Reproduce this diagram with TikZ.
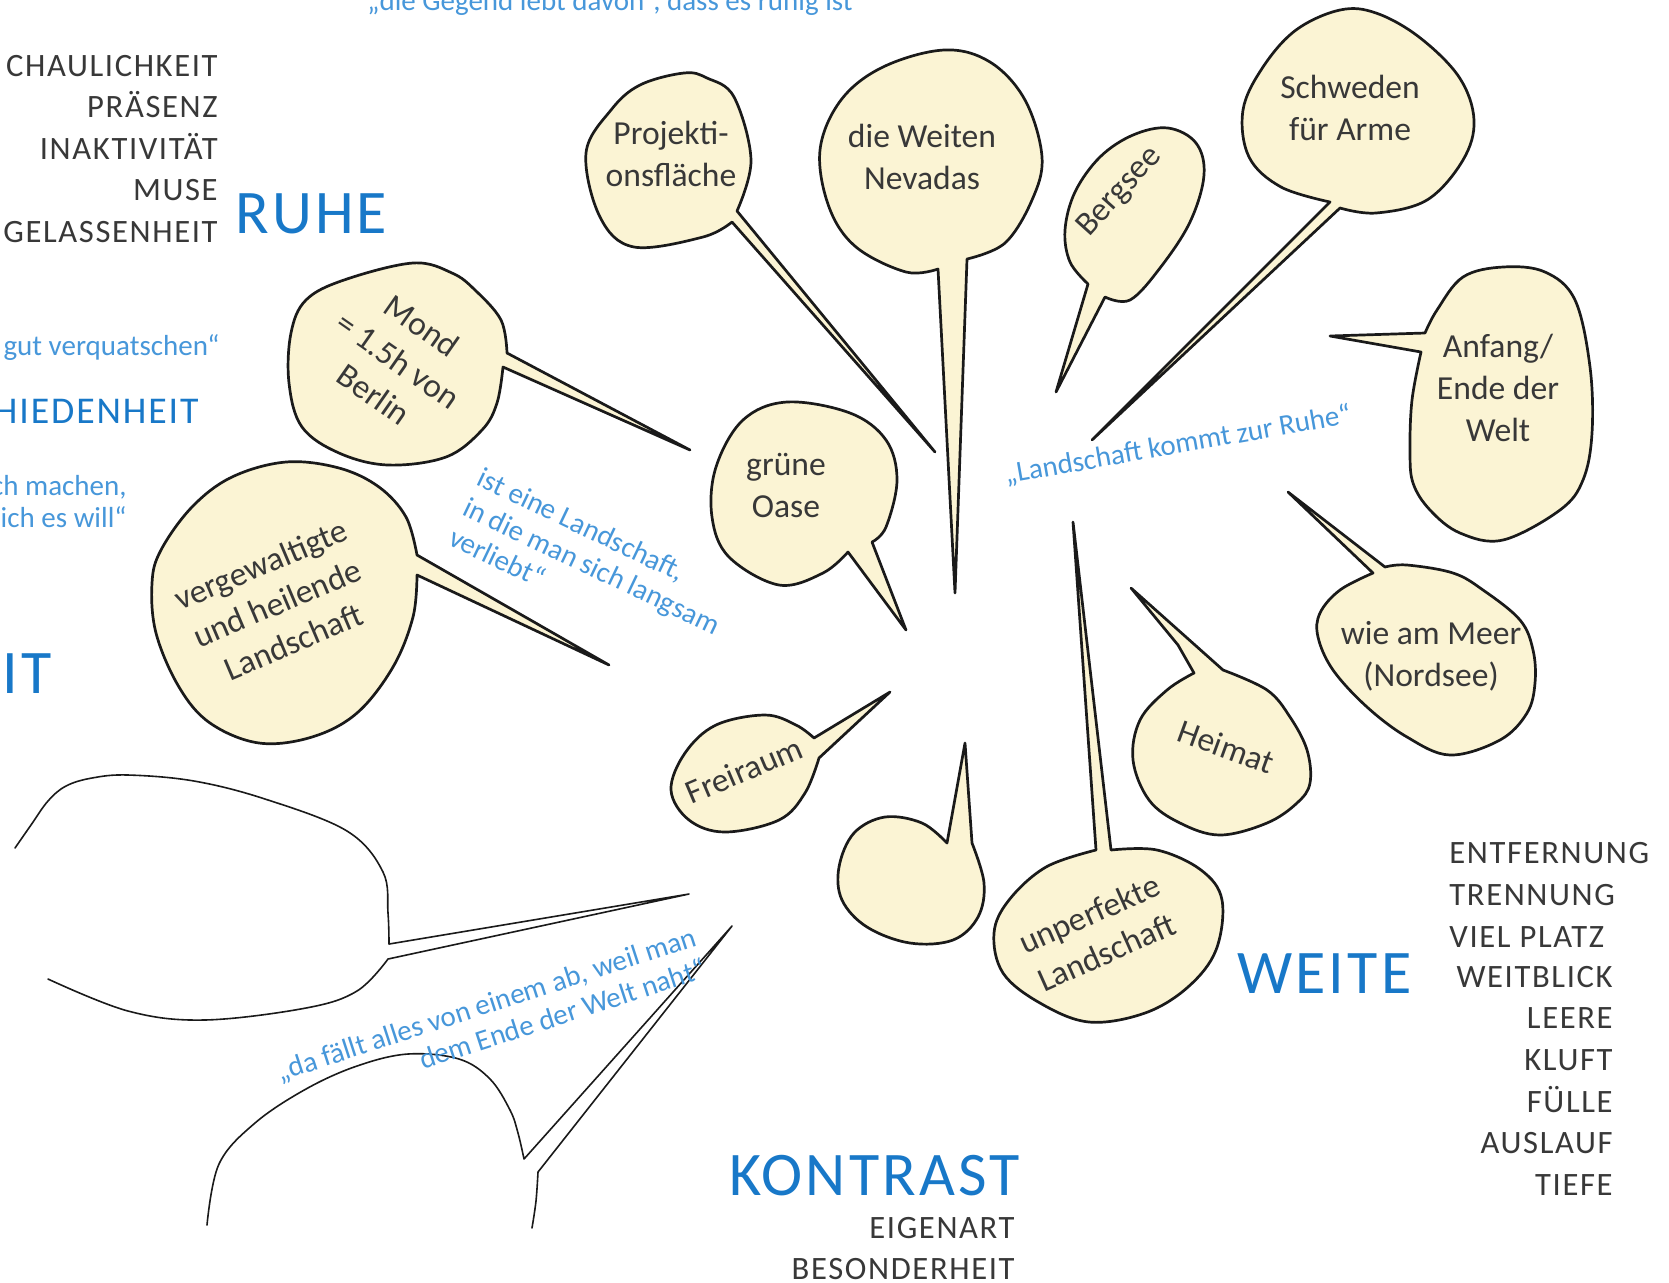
\documentclass[tikz,border=0pt]{standalone}
\usepackage{fontspec}
\setmainfont{Carlito}
\newfontfamily\capsfont[LetterSpace=5]{Carlito}
\definecolor{inkline}{HTML}{1A1A1A}
\definecolor{inkgrey}{HTML}{383838}
\definecolor{headblue}{HTML}{1878C8}
\definecolor{quoteblue}{HTML}{4797DA}
\definecolor{bubblefill}{HTML}{FBF4D4}
\begin{document}
\begin{tikzpicture}[x=0.5pt,y=-0.5pt,
  bubble/.style={draw=inkline, line width=1.35pt, fill=bubblefill, line join=round, line cap=round},
  sketch/.style={draw=inkline, line width=0.8pt, line join=round, line cap=round},
  bubtext/.style={text=inkgrey, font=\fontsize{16.8}{21}\selectfont, align=center, inner sep=0pt},
  capsword/.style={text=inkgrey, font=\capsfont\fontsize{16.3}{20}\selectfont, inner sep=0pt},
  heading/.style={text=headblue, font=\capsfont\fontsize{31}{36}\selectfont, inner sep=0pt},
  subhead/.style={text=headblue, font=\capsfont\fontsize{18.9}{22}\selectfont, inner sep=0pt},
  quote/.style={text=quoteblue, font=\fontsize{14.5}{16.5}\selectfont, inner sep=0pt}]
\fill[white] (0,0) rectangle (1669,1282);
\useasboundingbox (0,0) rectangle (1669,1282);

% tail tips
\coordinate (tMond) at (690,450);
\coordinate (tVerg) at (609,665);
\coordinate (tProj) at (935,452);
\coordinate (tNev) at (955,593);
\coordinate (tBerg) at (1056,392);
\coordinate (tSchw) at (1092,440);
\coordinate (tAnf) at (1330,336);
\coordinate (tOase) at (906,630);
\coordinate (tFrei) at (890,692);
\coordinate (tHeim) at (1131,588);
\coordinate (tMeer) at (1288,492);
\coordinate (tLeer) at (965,743);
\coordinate (tUnp) at (1073,522);
\coordinate (tBigA) at (689,894);
\coordinate (tBigB) at (732,926);

% bubbles
\draw[bubble] plot[smooth,tension=.6] coordinates {(737,211) (751,160) (734,97) (707,78) (684,73) (640,85) (611,110) (586,153) (600,217) (634,247) (703,237) (732,222)} -- (tProj) -- cycle;
\draw[bubble] plot[smooth,tension=.6] coordinates {(967,259) (1005,243) (1032,200) (1042,157) (1025,100) (990,62) (944,50) (883,67) (841,100) (820,150) (829,207) (856,247) (906,272) (938,269)} -- (tNev) -- cycle;
\draw[bubble] plot[smooth,tension=.6] coordinates {(1105,297) (1130,300) (1160,268) (1190,222) (1204,175) (1196,143) (1168,128) (1133,135) (1100,157) (1075,192) (1065,230) (1070,262) (1088,284)} -- (tBerg) -- cycle;
\draw[bubble] plot[smooth,tension=.6] coordinates {(1340,208) (1376,213) (1427,200) (1463,160) (1474,120) (1459,77) (1419,37) (1376,13) (1340,10) (1296,30) (1263,67) (1243,110) (1249,157) (1281,187) (1330,202)} -- (tSchw) -- cycle;
\draw[bubble] plot[smooth,tension=.6] coordinates {(1421,352) (1412,400) (1410,450) (1413,483) (1430,510) (1460,533) (1503,540) (1560,510) (1583,480) (1592,433) (1590,367) (1575,300) (1545,272) (1503,267) (1463,277) (1437,310) (1425,333)} -- (tAnf) -- cycle;
\draw[bubble] plot[smooth,tension=.6] coordinates {(872,542) (886,527) (897,480) (886,440) (850,413) (787,402) (743,420) (716,467) (712,517) (729,557) (779,585) (823,573) (848,552)} -- (tOase) -- cycle;
\draw[bubble] plot[smooth,tension=.6] coordinates {(814,738) (796,725) (765,715) (716,725) (685,753) (671,790) (689,820) (725,832) (779,820) (805,793) (819,758)} -- (tFrei) -- cycle;
\draw[bubble] plot[smooth,tension=.6] coordinates {(1223,670) (1267,690) (1290,717) (1307,750) (1310,783) (1297,803) (1267,823) (1220,835) (1180,823) (1149,800) (1133,760) (1140,720) (1167,690) (1194,673)} -- (1178,645) -- (tHeim) -- cycle;
\draw[bubble] plot[smooth,tension=.6] coordinates {(1385,567) (1407,565) (1453,573) (1483,590) (1520,620) (1533,650) (1535,683) (1527,713) (1500,740) (1450,755) (1407,737) (1367,707) (1333,670) (1318,637) (1320,613) (1340,590) (1373,573)} -- (tMeer) -- cycle;
\draw[bubble] plot[smooth,tension=.6] coordinates {(507,353) (501,320) (475,290) (452,273) (413,263) (344,280) (306,300) (291,333) (289,383) (302,427) (339,453) (388,465) (446,457) (482,430) (497,403) (503,367)} -- (tMond) -- cycle;
\draw[bubble] plot[smooth,tension=.6] coordinates {(417,555) (406,517) (379,487) (339,468) (286,462) (232,477) (192,507) (161,550) (152,583) (156,633) (179,687) (210,723) (259,743) (312,737) (357,713) (393,667) (413,617) (417,575)} -- (tVerg) -- cycle;
\draw[bubble] plot[smooth,tension=.6] coordinates {(972,843) (984,883) (978,917) (953,940) (910,943) (867,927) (842,900) (839,867) (854,833) (885,817) (922,823) (947,843)} -- (tLeer) -- cycle;
\draw[bubble] plot[smooth,tension=.6] coordinates {(1111,850) (1157,850) (1201,870) (1222,900) (1216,950) (1188,987) (1145,1013) (1089,1022) (1040,1003) (1003,973) (994,933) (1009,900) (1046,867) (1096,850)} -- (tUnp) -- cycle;

% open outline bubbles
\draw[sketch] plot[smooth,tension=.6] coordinates {(15,848) (31,825) (48,801) (66,786) (92,778) (128,775) (194,781) (265,799) (347,831) (383,872) (388,913) (389,944)} -- (tBigA) -- plot[smooth,tension=.6] coordinates {(388,959) (357,991) (306,1008) (204,1020) (128,1011) (48,979)};
\draw[sketch] plot[smooth,tension=.6] coordinates {(207,1225) (219,1164) (255,1123) (306,1089) (357,1066) (408,1054) (459,1059) (490,1079) (510,1110) (518,1133) (524,1159)} -- (tBigB) -- plot[smooth,tension=.6] coordinates {(538,1172) (536,1201) (532,1228)};

% bubble texts
\node[bubtext] (bProj) at (671,154) {Projekti-\\onsfläche};
\node[bubtext] (bNev) at (922,157) {die Weiten\\Nevadas};
\node[bubtext, rotate=48] (bBerg) at (1120,192) {Bergsee};
\node[bubtext] (bSchw) at (1350,108) {Schweden\\für Arme};
\node[bubtext] (bAnf) at (1498,388) {Anfang/\\Ende der\\Welt};
\node[bubtext] (bOase) at (786,485) {grüne\\Oase};
\node[bubtext, rotate=-35] (bMond) at (398,360) {Mond\\= 1.5h von\\Berlin};
\node[bubtext, rotate=23] (bVerg) at (277,603) {vergewaltigte\\und heilende\\Landschaft};
\node[bubtext, rotate=23] (bFrei) at (744,770) {Freiraum};
\node[bubtext, rotate=-20] (bHeim) at (1226,747) {Heimat};
\node[bubtext] (bMeer) at (1431,656) {wie am Meer\\(Nordsee)};
\node[bubtext, rotate=24] (bUnp) at (1098,933) {unperfekte\\Landschaft};

% quotes
\node[quote, anchor=base west] (qTop) at (367,10) {„die Gegend lebt davon“, dass es ruhig ist};
\node[quote, anchor=base east] (qGut) at (220,355) {gut verquatschen“};
\node[quote, anchor=base east] (qMach1) at (127,495) {ch machen,};
\node[quote, anchor=base east] (qMach2) at (127,527) {ich es will“};
\node[quote, rotate=-25.5, anchor=north west, align=left] (qVerl) at (484,466) {ist eine Landschaft,\\in die man sich langsam\\verliebt“};
\node[quote, rotate=10, anchor=base west] (qRuhe) at (1006,484) {„Landschaft kommt zur Ruhe“};
\node[quote, rotate=18, anchor=north east, align=right] (qFall) at (692,926) {„da fällt alles von einem ab, weil man\\dem Ende der Welt naht“};

% left word list
\node[capsword, anchor=base east] (w1) at (218,76) {CHAULICHKEIT};
\node[capsword, anchor=base east] (w2) at (218,117) {PRÄSENZ};
\node[capsword, anchor=base east] (w3) at (218,159) {INAKTIVITÄT};
\node[capsword, anchor=base east] (w4) at (218,200) {MUSE};
\node[capsword, anchor=base east] (w5) at (218,242) {GELASSENHEIT};
\node[heading, anchor=base west] (hRuhe) at (235,233) {RUHE};
\node[subhead, anchor=base east] (hVer) at (199,423) {HIEDENHEIT};
\node[heading, anchor=base west] (hIt) at (2,693) {IT};

% right word list
\node[heading, anchor=base west] (hWeite) at (1237,993) {WEITE};
\node[capsword, anchor=base west] (r1) at (1449,863) {ENTFERNUNG};
\node[capsword, anchor=base west] (r2) at (1449,905) {TRENNUNG};
\node[capsword, anchor=base west] (r3) at (1449,947) {VIEL PLATZ};
\node[capsword, anchor=base east] (r4) at (1613,987) {WEITBLICK};
\node[capsword, anchor=base east] (r5) at (1613,1028) {LEERE};
\node[capsword, anchor=base east] (r6) at (1613,1070) {KLUFT};
\node[capsword, anchor=base east] (r7) at (1613,1112) {FÜLLE};
\node[capsword, anchor=base east] (r8) at (1613,1153) {AUSLAUF};
\node[capsword, anchor=base east] (r9) at (1613,1195) {TIEFE};

% bottom
\node[heading, anchor=base west] (hKon) at (729,1195) {KONTRAST};
\node[capsword, anchor=base east] (k1) at (1015,1238) {EIGENART};
\node[capsword, anchor=base east] (k2) at (1015,1279) {BESONDERHEIT};
\end{tikzpicture}
\end{document}
